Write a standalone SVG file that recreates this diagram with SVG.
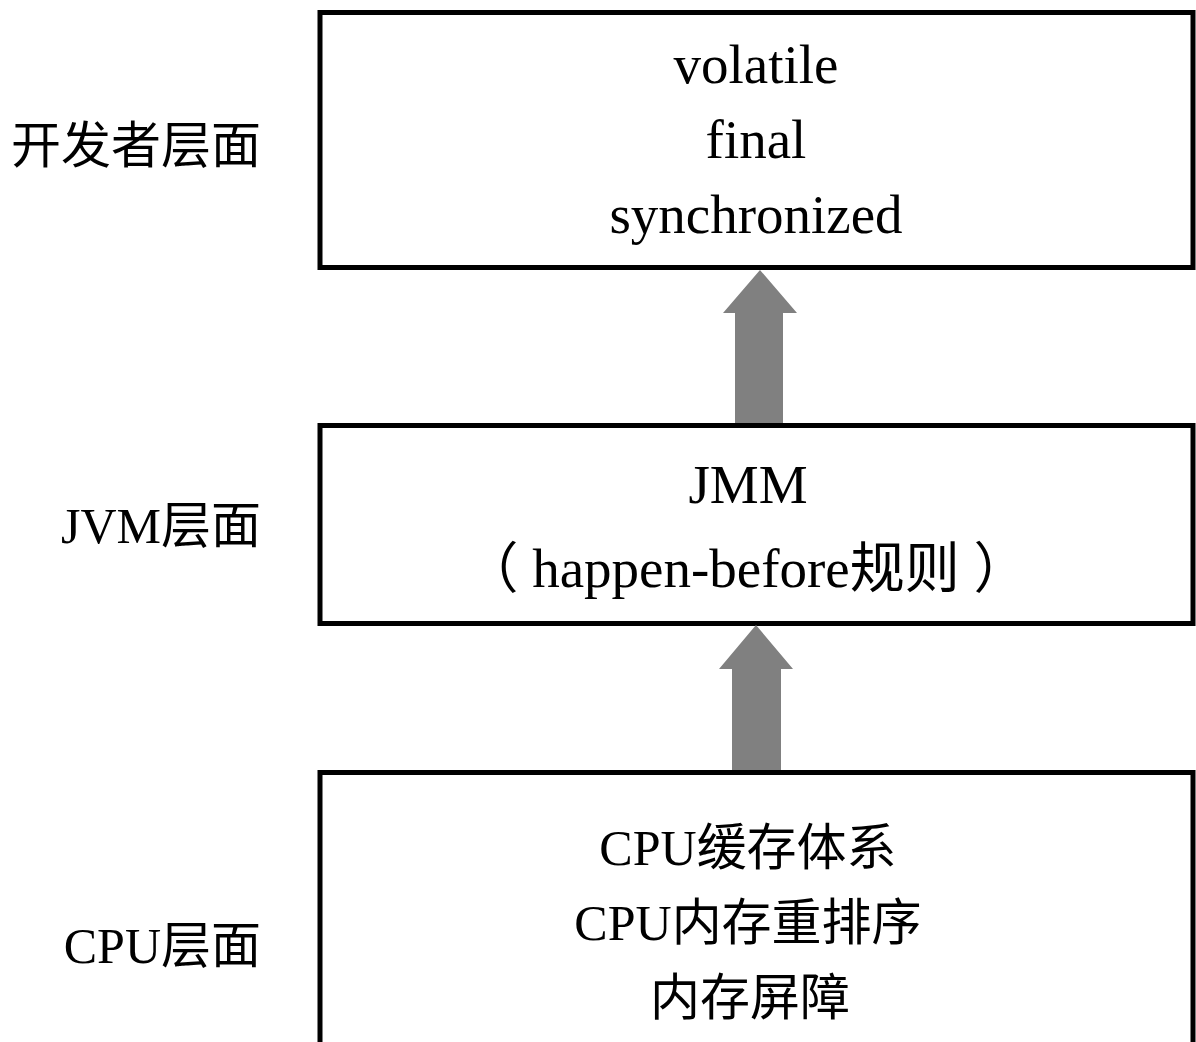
<svg xmlns="http://www.w3.org/2000/svg" width="1196" height="1042" viewBox="0 0 1196 1042">
  <style>
    .box { fill: #ffffff; stroke: #000000; stroke-width: 5; }
    .arrow { fill: #808080; stroke: none; }
    .t { font-family: "Liberation Serif", "Noto Sans CJK SC", serif; fill: #000000; text-anchor: middle; }
    .lbl { font-family: "Liberation Serif", "Noto Sans CJK SC", serif; font-size: 50px; fill: #000000; text-anchor: end; }
    .cjk { font-family: "Noto Sans CJK SC", sans-serif; }
  </style>
  <rect width="1196" height="1042" fill="#ffffff"/>

  <!-- layer labels -->
  <g id="label-dev">
    <text class="lbl cjk" x="261" y="163">开发者层面</text>
  </g>
  <g id="label-jvm">
    <text class="lbl" x="261" y="543">JVM<tspan class="cjk">层面</tspan></text>
  </g>
  <g id="label-cpu">
    <text class="lbl" x="261" y="963">CPU<tspan class="cjk">层面</tspan></text>
  </g>

  <!-- developer level -->
  <g id="node-dev">
    <rect class="box" x="320" y="12.5" width="873" height="255"/>
    <text class="t" x="756" y="83" font-size="55">volatile</text>
    <text class="t" x="756" y="158" font-size="55">final</text>
    <text class="t" x="756" y="233" font-size="55">synchronized</text>
  </g>

  <!-- JVM level -->
  <g id="node-jvm">
    <rect class="box" x="320" y="425.5" width="873" height="198"/>
    <text class="t" x="748" y="503" font-size="55">JMM</text>
    <text class="t" x="746" y="587" font-size="55"><tspan class="cjk">（</tspan> happen-before<tspan class="cjk">规则</tspan> <tspan class="cjk">）</tspan></text>
  </g>

  <!-- CPU level -->
  <g id="node-cpu">
    <rect class="box" x="320" y="772.5" width="873" height="300"/>
    <text class="t" x="748" y="865" font-size="50">CPU<tspan class="cjk">缓存体系</tspan></text>
    <text class="t" x="748" y="940" font-size="50">CPU<tspan class="cjk">内存重排序</tspan></text>
    <text class="t cjk" x="750" y="1015" font-size="50">内存屏障</text>
  </g>

  <!-- connectors -->
  <g id="connectors">
    <polygon class="arrow" points="760,270 797,313 783,313 783,423 735,423 735,313 723,313"/>
    <polygon class="arrow" points="756,625 793,669 781,669 781,770 732,770 732,669 719,669"/>
  </g>
</svg>
